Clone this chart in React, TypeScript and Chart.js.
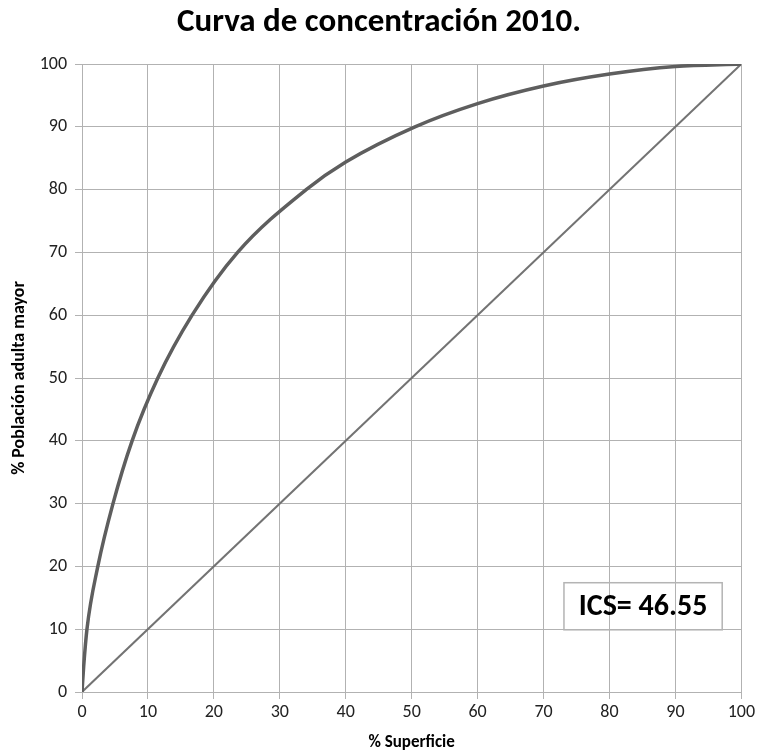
import React, { useEffect, useRef } from "react";
import { Chart, registerables } from "chart.js";

Chart.register(...registerables);

const superficie = [0, 0.25, 0.75, 2.4, 4.7, 7.6, 11.5, 16.7, 23.6, 34, 40, 50.5, 60, 70, 80, 90, 100];
const poblacion = [0, 4, 10, 20, 30, 40, 50, 60, 70, 80, 84.4, 90, 93.7, 96.5, 98.4, 99.6, 100];
const igualdadX = [0, 100];
const igualdadY = [0, 100];
const tickValues = [0, 10, 20, 30, 40, 50, 60, 70, 80, 90, 100];
const chartTitle = "Curva de concentración 2010.";
const xTitle = "% Superficie";
const yTitle = "% Población adulta mayor";
const icsLabel = "ICS= 46.55";
const icsBox = { x0: 73.1, x1: 97.1, y0: 9.9, y1: 17.4 };

const FONT = "Carlito, Calibri, Lato, 'Open Sans', sans-serif";

const icsPlugin = {
  id: "icsBox",
  afterDatasetsDraw(chart: any) {
    const { ctx, scales } = chart;
    const xs = scales.x;
    const ys = scales.y;
    const l = xs.getPixelForValue(icsBox.x0);
    const r = xs.getPixelForValue(icsBox.x1);
    const t = ys.getPixelForValue(icsBox.y1);
    const b = ys.getPixelForValue(icsBox.y0);
    ctx.save();
    ctx.strokeStyle = "#b4b4b4";
    ctx.lineWidth = 1.5;
    ctx.strokeRect(l, t, r - l, b - t);
    ctx.fillStyle = "#000";
    ctx.font = `bold 30px ${FONT}`;
    ctx.textAlign = "center";
    ctx.textBaseline = "middle";
    ctx.fillText(icsLabel, (l + r) / 2, (t + b) / 2 + 1);
    ctx.restore();
  },
};

export default function App() {
  const ref = useRef<HTMLCanvasElement | null>(null);
  useEffect(() => {
    document.body.style.margin = "0";
    const canvas = ref.current!;
    const chart = new Chart(canvas, {
      type: "line",
      data: {
        datasets: [
          {
            label: "Curva",
            data: superficie.map((x, i) => ({ x, y: poblacion[i] })),
            borderColor: "#5e5e5e",
            borderWidth: 3.5,
            pointRadius: 0,
            cubicInterpolationMode: "monotone",
            fill: false,
          },
          {
            label: "Igualdad",
            data: igualdadX.map((x, i) => ({ x, y: igualdadY[i] })),
            borderColor: "#737373",
            borderWidth: 2,
            pointRadius: 0,
            fill: false,
          },
        ],
      },
      options: {
        animation: false,
        responsive: false,
        layout: { padding: { left: 15, right: 15, top: 0, bottom: 0 } },
        plugins: {
          legend: { display: false },
          tooltip: { enabled: false },
          title: {
            display: true,
            text: chartTitle,
            color: "#000",
            font: { family: FONT, size: 33, weight: "bold", lineHeight: 1.2 },
            padding: { top: 3, bottom: 21.4 },
          },
        },
        scales: {
          x: {
            type: "linear",
            min: 0,
            max: 100,
            afterBuildTicks: (s: any) => {
              s.ticks = tickValues.map((v) => ({ value: v }));
            },
            afterFit: (s: any) => {
              s.height = 63;
            },
            grid: { color: "#b2b2b2", lineWidth: 1, tickLength: 7, drawTicks: true },
            border: { display: false },
            ticks: {
              color: "#222",
              font: { family: FONT, size: 18 },
              padding: 3,
              maxRotation: 0,
            },
            title: {
              display: true,
              text: xTitle,
              color: "#000",
              font: { family: FONT, size: 17, weight: "bold", lineHeight: 1.2 },
              padding: { top: 0, bottom: 2 },
            },
          },
          y: {
            type: "linear",
            min: 0,
            max: 100,
            afterBuildTicks: (s: any) => {
              s.ticks = tickValues.map((v) => ({ value: v }));
            },
            afterFit: (s: any) => {
              s.width = 67;
            },
            grid: { color: "#b2b2b2", lineWidth: 1, tickLength: 7, drawTicks: true },
            border: { display: false },
            ticks: {
              color: "#222",
              font: { family: FONT, size: 18 },
              padding: 8,
            },
            title: {
              display: true,
              text: yTitle,
              color: "#000",
              font: { family: FONT, size: 18, weight: "bold", lineHeight: 1.2 },
              padding: { top: -6, bottom: 0 },
            },
          },
        },
      },
      plugins: [icsPlugin],
    } as any);
    return () => chart.destroy();
  }, []);
  return (
    <div style={{ width: 758, height: 755, background: "#fff" }}>
      <canvas ref={ref} width={758} height={755} style={{ display: "block" }} />
    </div>
  );
}
